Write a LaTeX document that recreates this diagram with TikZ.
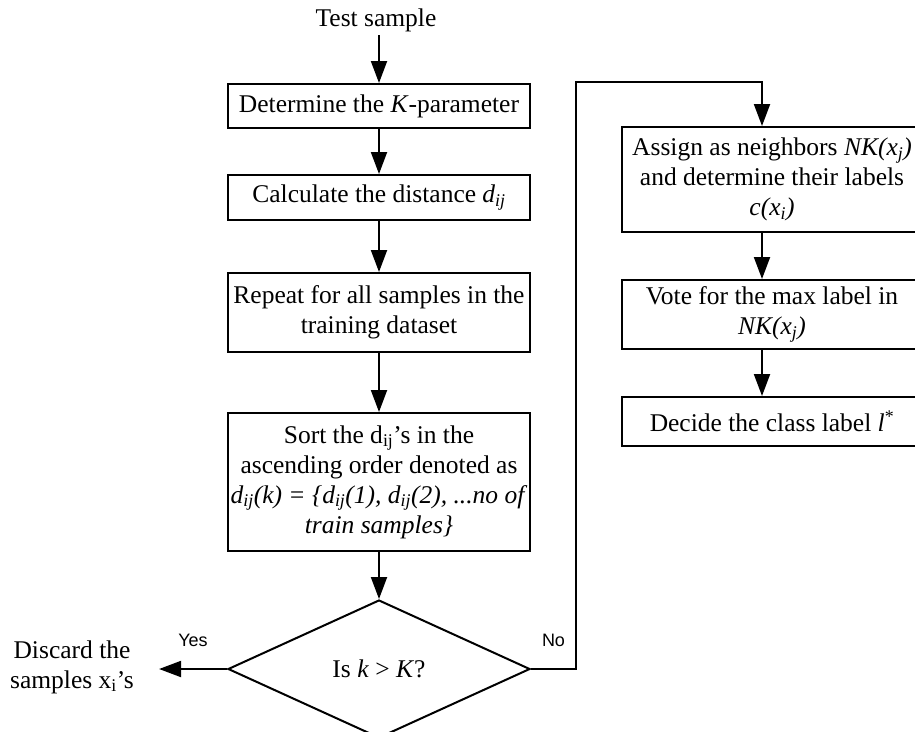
\documentclass[tikz,border=0pt]{standalone}
\usepackage{fontspec}
\setmainfont{Liberation Serif}
\newfontfamily\answerfont{Liberation Sans}
\usetikzlibrary{positioning,shapes.geometric,arrows.meta}

\begin{document}
\begin{tikzpicture}[x=1pt, y=1pt, node distance=45pt,
    proc/.style={draw, line width=2pt, align=center, minimum width=302pt, inner xsep=2pt, inner ysep=4pt, font=\fontsize{25.5}{30}\selectfont},
    flow/.style={-{Triangle[length=22pt,width=16pt]}, line width=2pt},
    answer/.style={font=\answerfont\fontsize{18}{22}\selectfont}]
    \useasboundingbox (0,0) rectangle (915,-731);
    \clip (0,0) rectangle (915,-731);

    % left column
    \node (test) at (376,-20) [font=\fontsize{25.5}{30}\selectfont] {Test sample};
    \node (kpar) [proc, minimum height=44pt] at (379,-106) {Determine the \textit{K}-parameter};
    \node (dist) [proc, minimum height=45pt, below=45pt of kpar] {Calculate the distance \textit{d\textsubscript{ij}}};
    \node (rep) [proc, minimum height=79pt, below=51pt of dist] {Repeat for all samples in the\\training dataset};
    \node (sort) [proc, minimum height=138pt, below=59pt of rep] {Sort the d\textsubscript{ij}'s in the\\ascending order denoted as\\\textit{d\textsubscript{ij}(k) = \{d\textsubscript{ij}(1), d\textsubscript{ij}(2), ...no of}\\\textit{train samples\}}};
    \node (dec) [diamond, draw, line width=2pt, minimum width=302pt, minimum height=138pt, inner sep=0pt, below=47pt of sort, font=\fontsize{25.5}{30}\selectfont] {Is \textit{k} > \textit{K}?};
    \node (discard) at (72,-667) [align=center, inner xsep=25pt, font=\fontsize{25.5}{30}\selectfont] {Discard the\\samples x\textsubscript{i}'s};

    % right column
    \coordinate (loop) at (576,-82);
    \node (assign) [proc, minimum width=300pt, minimum height=105pt] at (772,-179.5) {Assign as neighbors \textit{NK(x\textsubscript{j})}\\and determine their labels\\\textit{c(x\textsubscript{i})}};
    \node (vote) [proc, minimum width=300pt, minimum height=69pt, below=46pt of assign] {Vote for the max label in\\\textit{NK(x\textsubscript{j})}};
    \node (class) [proc, minimum width=300pt, minimum height=49pt, below=46pt of vote] {Decide the class label \textit{l}\textsuperscript{*}};

    \draw[flow] (test.south -| kpar.north) -- (kpar);
    \draw[flow] (kpar) -- (dist);
    \draw[flow] (dist) -- (rep);
    \draw[flow] (rep) -- (sort);
    \draw[flow] (sort) -- (dec);
    \draw[flow] (dec.west) -- node[answer, above=18pt] {Yes} (dec.west -| discard.east);
    \draw[flow] (dec.east) -- node[answer, above=18pt] {No} (dec.east -| loop) -- (loop) -| ([xshift=-10pt]assign.north);
    \draw[flow] ([xshift=-10pt]assign.south) -- ([xshift=-10pt]vote.north);
    \draw[flow] ([xshift=-10pt]vote.south) -- ([xshift=-10pt]class.north);
\end{tikzpicture}
\end{document}
